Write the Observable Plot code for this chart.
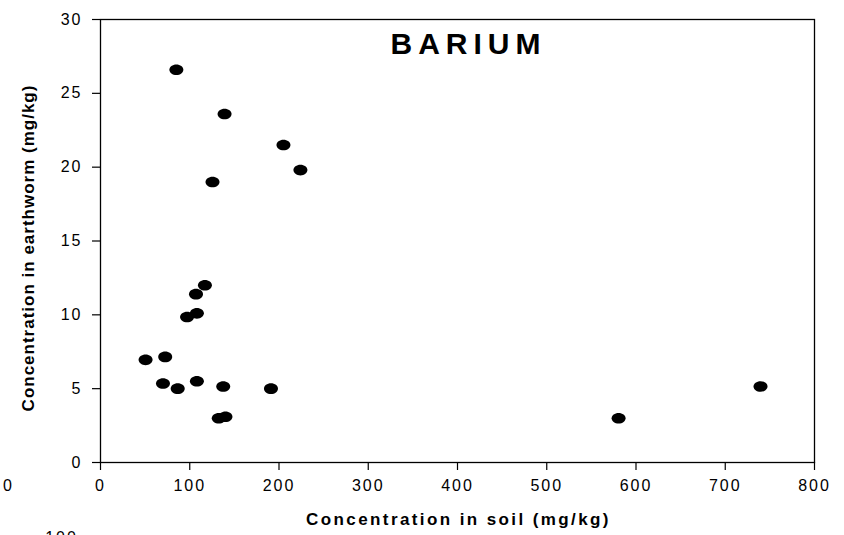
<!DOCTYPE html>
<html>
<head>
<meta charset="utf-8">
<script src="https://cdn.jsdelivr.net/npm/d3@7"></script>
<script src="https://cdn.jsdelivr.net/npm/@observablehq/plot@0.6"></script>
<style>
  html, body { margin: 0; padding: 0; background: #fff; }
  #chart svg { display: block; }
  #chart [aria-label="x-axis tick label"] text,
  #chart [aria-label="y-axis tick label"] text,
  #chart .stray text { letter-spacing: 2px; }
  #chart .ttl text { letter-spacing: 6px; }
  #chart .xttl text { letter-spacing: 2.4px; }
  #chart .yttl text { letter-spacing: 1px; }
</style>
</head>
<body>
<div id="chart"></div>
<script>
// Data
const soil = [85, 139, 125.5, 205, 224, 117, 107, 108, 97, 50.5, 72.5, 70, 86.5, 108, 137.5, 191, 132.5, 140, 580.5, 739.5];
const worm = [26.6, 23.6, 19.0, 21.5, 19.8, 12.0, 11.4, 10.1, 9.85, 6.95, 7.15, 5.35, 5.0, 5.5, 5.15, 5.0, 3.0, 3.1, 3.0, 5.15];
const xTicks = [0, 100, 200, 300, 400, 500, 600, 700, 800];
const yTicks = [0, 5, 10, 15, 20, 25, 30];
const title = "BARIUM";
const xTitle = "Concentration in soil (mg/kg)";
const yTitle = "Concentration in earthworm (mg/kg)";
const strayLabels = ["0", "100"];

const data = soil.map((s, i) => ({soil: s, worm: worm[i]}));

// Elliptical marker symbol
const ellipse = {
  draw(ctx) {
    const rx = 7, ry = 5.3, k = 0.5523;
    ctx.moveTo(rx, 0);
    ctx.bezierCurveTo(rx, ry * k, rx * k, ry, 0, ry);
    ctx.bezierCurveTo(-rx * k, ry, -rx, ry * k, -rx, 0);
    ctx.bezierCurveTo(-rx, -ry * k, -rx * k, -ry, 0, -ry);
    ctx.bezierCurveTo(rx * k, -ry, rx, -ry * k, rx, 0);
    ctx.closePath();
  }
};

const font = "'Liberation Sans', Arial, Helvetica, sans-serif";

const chart = Plot.plot({
  width: 844,
  height: 535,
  marginLeft: 100,
  marginRight: 30,
  marginTop: 19,
  marginBottom: 73,
  style: {fontFamily: font, color: "black", background: "white", overflow: "visible"},
  x: {domain: [0, 800]},
  y: {domain: [0, 30]},
  marks: [
    Plot.frame({stroke: "black", strokeWidth: 1.3}),
    Plot.axisX({ticks: xTicks, tickSize: 8, tickPadding: 9, fontSize: 16, label: null, stroke: "black", strokeWidth: 1.2}),
    Plot.axisY({ticks: yTicks, tickSize: 8, tickPadding: 10, fontSize: 16, label: null, stroke: "black", strokeWidth: 1.2}),
    Plot.dot(data, {x: "soil", y: "worm", symbol: ellipse, fill: "black", stroke: "none"}),
    Plot.text([title], {frameAnchor: "top", dx: 11, dy: 25, fontSize: 30, fontWeight: "bold", fill: "black", lineAnchor: "middle", textAnchor: "middle", className: "ttl"}),
    Plot.text([xTitle], {frameAnchor: "bottom", dx: 1, dy: 57, fontSize: 17, fontWeight: "bold", fill: "black", lineAnchor: "middle", textAnchor: "middle", className: "xttl"}),
    Plot.text([yTitle], {frameAnchor: "left", dx: -72, dy: 7, rotate: -90, fontSize: 17, fontWeight: "bold", fill: "black", lineAnchor: "middle", textAnchor: "middle", className: "yttl"}),
    Plot.text([strayLabels[0]], {frameAnchor: "bottom-left", dx: -92, dy: 23, fontSize: 16, fill: "black", lineAnchor: "middle", textAnchor: "middle", className: "stray"}),
    Plot.text([strayLabels[1]], {frameAnchor: "bottom-left", dx: -39, dy: 75, fontSize: 16, fill: "black", lineAnchor: "middle", textAnchor: "middle", className: "stray"})
  ]
});
document.getElementById("chart").appendChild(chart);
</script>
</body>
</html>
